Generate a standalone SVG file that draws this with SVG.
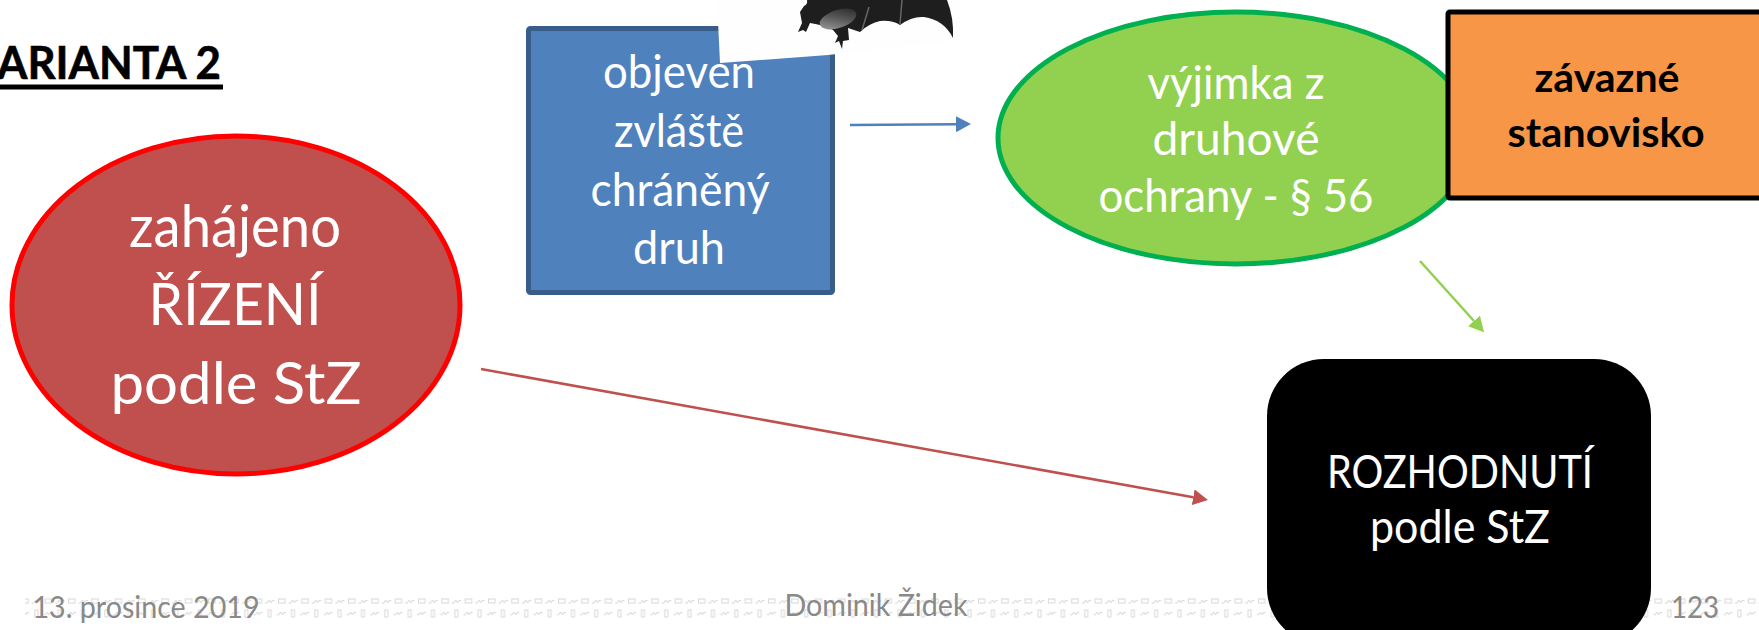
<svg xmlns="http://www.w3.org/2000/svg" width="1759" height="630" viewBox="0 0 1759 630">
<style>
text{font-family:"Lato","Open Sans","Liberation Sans",sans-serif;text-anchor:middle}
.w{fill:#fff}
.big{font-size:58px}
.mid{font-size:46px}
.foot{font-size:30px;fill:#898989}
.bold{font-weight:700;fill:#000}
.conn{fill:none;stroke-width:2.5}
</style>
<defs>
<marker id="hb" markerUnits="userSpaceOnUse" markerWidth="16" markerHeight="16" refX="0" refY="8" orient="auto"><path d="M0 0L15 8L0 16Z" fill="#4F81BD"/></marker>
<marker id="hr" markerUnits="userSpaceOnUse" markerWidth="16" markerHeight="16" refX="0" refY="8" orient="auto"><path d="M0 0L15 8L0 16Z" fill="#C0504D"/></marker>
<marker id="hg" markerUnits="userSpaceOnUse" markerWidth="16" markerHeight="16" refX="0" refY="8" orient="auto"><path d="M0 0L15 8L0 16Z" fill="#92D050"/></marker>
<pattern id="p1" patternUnits="userSpaceOnUse" x="278" y="595" width="23.33" height="25">
<rect x="0.5" y="4" width="6.5" height="4" fill="none" stroke="#d8d8d8" stroke-width="1"/>
<path d="M10.5 7.500q1.500 2 3-1q1-2 2 0q1 2 2-.5q.8-1.500 2.500 0" fill="none" stroke="#d8d8d8" stroke-width="1"/>
<rect x="13.500" y="15" width="3" height="7" fill="none" stroke="#d8d8d8" stroke-width="1"/>
<path d="M22 19q1.500 1.500 2-.5" fill="none" stroke="#d8d8d8" stroke-width="1"/>
<path d="M-1.500 19.500q1.500 2 3-1q1-2 2 0q1 2 2-.5q.8-1.500 2.500 0" fill="none" stroke="#d8d8d8" stroke-width="1"/>
</pattern>
<linearGradient id="wing" x1="1" y1="0" x2="0" y2="0.8"><stop offset="0" stop-color="#222"/><stop offset="0.5" stop-color="#555"/><stop offset="1" stop-color="#9a9a9a"/></linearGradient>
</defs>
<rect x="25" y="595" width="1734" height="25" fill="url(#p1)"/>
<g id="footer">
<text class="foot" x="146" y="618" textLength="227" lengthAdjust="spacingAndGlyphs">13. prosince 2019</text>
<text class="foot" x="876" y="616" textLength="183" lengthAdjust="spacingAndGlyphs">Dominik Židek</text>
<text class="foot" x="1695" y="618" textLength="48" lengthAdjust="spacingAndGlyphs">123</text>
</g>
<g id="title"><text class="bold" x="-3" y="79" style="text-anchor:start;font-size:45px;stroke:#000;stroke-width:.6" textLength="224" lengthAdjust="spacingAndGlyphs">ARIANTA 2</text><rect x="0" y="84.500" width="223" height="5"/></g>
<g id="node-rizeni">
<ellipse cx="236" cy="305" rx="224" ry="169" fill="#C0504D" stroke="#F00" stroke-width="5"/>
<text class="big w" x="235" y="247" textLength="212" lengthAdjust="spacingAndGlyphs">zahájeno</text>
<text class="big w" x="235" y="325" textLength="173" lengthAdjust="spacingAndGlyphs">ŘÍZENÍ</text>
<text class="big w" x="236" y="404" textLength="251" lengthAdjust="spacingAndGlyphs">podle StZ</text>
</g>
<g id="node-druh">
<rect x="528.500" y="28.500" width="304" height="264" rx="2" fill="#4F81BD" stroke="#385D8A" stroke-width="5"/>
<text class="mid w" x="679" y="88" textLength="152" lengthAdjust="spacingAndGlyphs">objeven</text>
<text class="mid w" x="679" y="147" textLength="130" lengthAdjust="spacingAndGlyphs">zvláště</text>
<text class="mid w" x="680" y="206" textLength="179" lengthAdjust="spacingAndGlyphs">chráněný</text>
<text class="mid w" x="679" y="264" textLength="92" lengthAdjust="spacingAndGlyphs">druh</text>
</g>
<g id="bat">
<path d="M717 0L720 63L828 55L960 40L960 0Z" fill="#fefefe"/>
<path d="M807 0Q808 4 804 6L800 12L802 23L798 32L803 30L806 32L810 23Q824 25 833 30L838 36L835 43L839 41L842 49L843 41L849 40L848 28L854 30L860 32Q868 24 880 21Q892 20 900 25Q912 16 924 17Q944 20 953 38Q954 18 947 0Z" fill="#1e1e1e"/>
<ellipse cx="838" cy="19" rx="19" ry="9" transform="rotate(-18 838 19)" fill="url(#wing)"/>
<path d="M862 30L869 7M900 24L902 0" stroke="#666" stroke-width="1.500" fill="none"/>
</g>
<g id="node-vyjimka">
<ellipse cx="1236" cy="138" rx="238" ry="126" fill="#92D050" stroke="#00B050" stroke-width="5"/>
<text class="mid w" x="1236" y="99" textLength="177" lengthAdjust="spacingAndGlyphs">výjimka z</text>
<text class="mid w" x="1236" y="155" textLength="167" lengthAdjust="spacingAndGlyphs">druhové</text>
<text class="mid w" x="1236" y="212" textLength="275" lengthAdjust="spacingAndGlyphs">ochrany - § 56</text>
</g>
<g id="node-stanovisko">
<rect x="1448" y="12" width="320" height="186" rx="2" fill="#F79646" stroke="#000" stroke-width="5"/>
<text class="bold" x="1607" y="92" style="font-size:41px" textLength="145" lengthAdjust="spacingAndGlyphs">závazné</text>
<text class="bold" x="1606" y="147" style="font-size:41px" textLength="197" lengthAdjust="spacingAndGlyphs">stanovisko</text>
</g>
<g id="node-rozhodnuti">
<rect x="1267" y="359" width="384" height="286" rx="57" fill="#000"/>
<text class="mid w" x="1460" y="488" textLength="266" lengthAdjust="spacingAndGlyphs">ROZHODNUTÍ</text>
<text class="mid w" x="1460" y="543" textLength="180" lengthAdjust="spacingAndGlyphs">podle StZ</text>
</g>
<g id="connectors">
<line class="conn" x1="850" y1="125" x2="956" y2="124.200" stroke="#4F81BD" marker-end="url(#hb)"/>
<line class="conn" x1="481" y1="369" x2="1193.200" y2="497.300" stroke="#C0504D" marker-end="url(#hr)"/>
<line class="conn" x1="1420" y1="261" x2="1474" y2="321" stroke="#92D050" marker-end="url(#hg)"/>
</g>
</svg>
